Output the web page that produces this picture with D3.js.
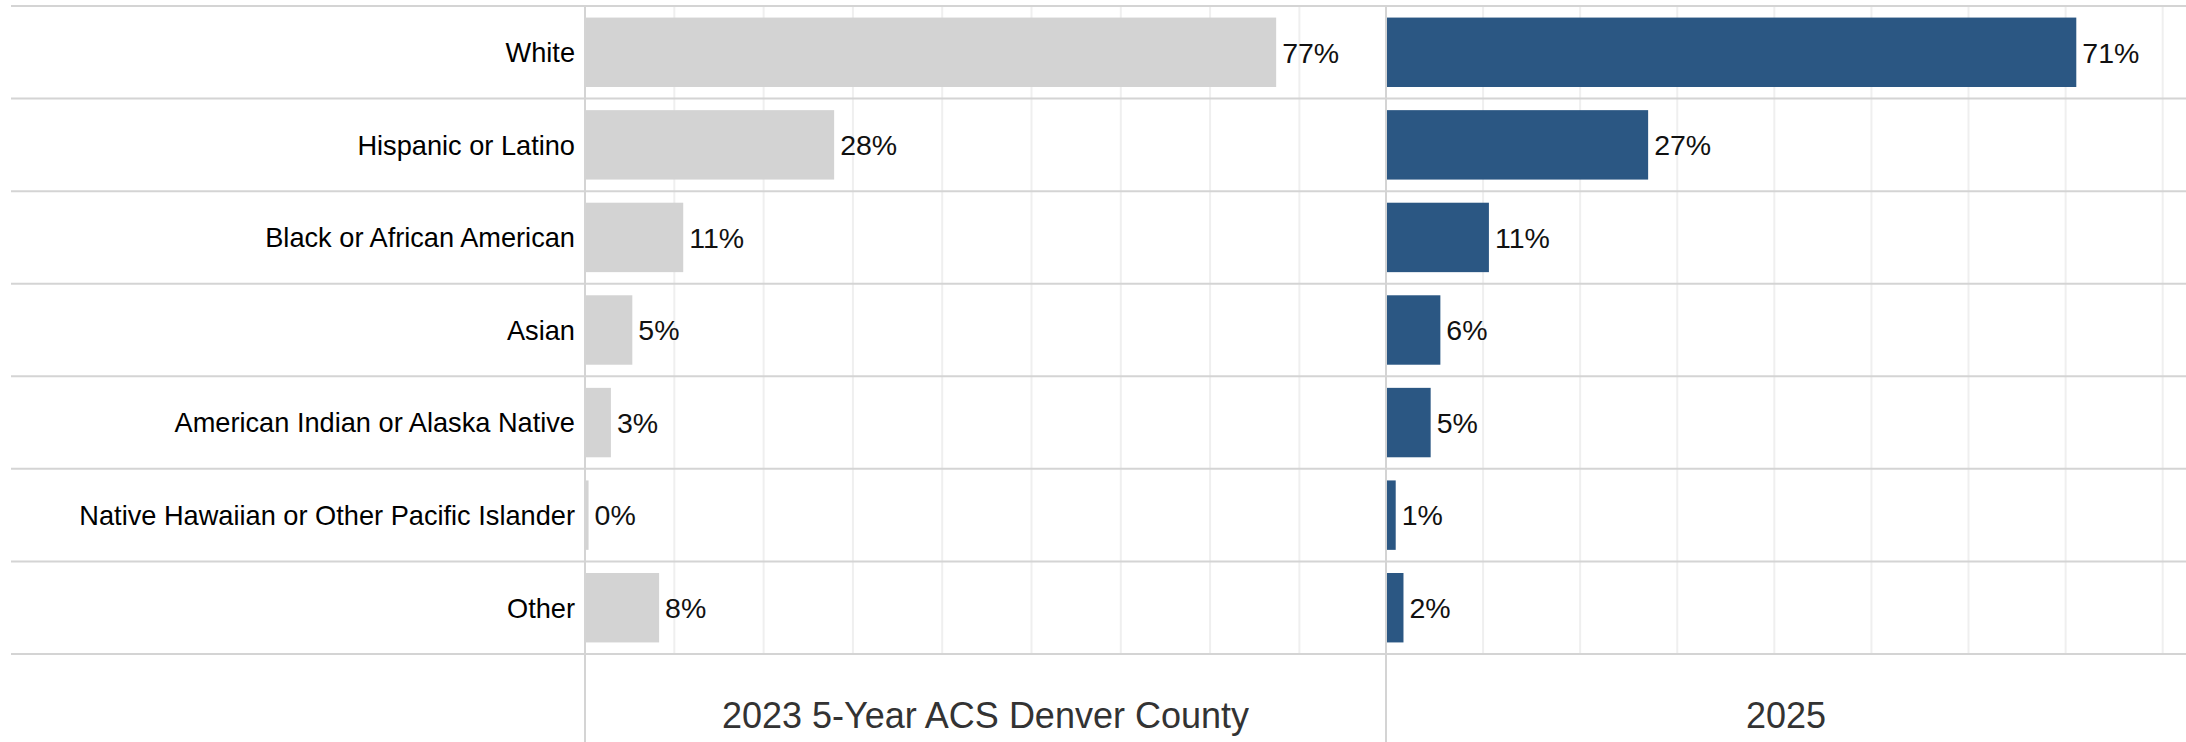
<!DOCTYPE html>
<html>
<head>
<meta charset="utf-8">
<script src="https://cdn.jsdelivr.net/npm/d3@7"></script>
<style>
  body { margin: 0; background: #fff; }
  text { font-family: Arial, "Liberation Sans", sans-serif; }
</style>
</head>
<body>
<script>
/* ---------------------------- */
/* DATA                         */
/* ---------------------------- */

const categories = [
    "White",
    "Hispanic or Latino",
    "Black or African American",
    "Asian",
    "American Indian or Alaska Native",
    "Native Hawaiian or Other Pacific Islander",
    "Other"
];
const panelTitles = ["2023 5-Year ACS Denver County", "2025"];
const acs2023 = [77.4, 27.9, 11.0, 5.3, 2.9, 0.4, 8.3];   // percent
const y2025   = [71.1, 27.0, 10.6, 5.6, 4.6, 1.0, 1.8];   // percent
const gridTicks = [10, 20, 30, 40, 50, 60, 70, 80];

/* ---------------------------- */
/* CANVAS                       */
/* ---------------------------- */

const w = 2186;
const h = 742;
const rowsTop = 6, rowsBottom = 654;
const labelRight = 585;          // left edge of the first panel
const panelSplit = 1386;          // left edge of the second panel

let svg = d3.select("body")
    .append("svg")
        .attr("width", w)
        .attr("height", h);

// Rows
let y = d3.scaleBand()
    .domain(categories)
    .range([rowsTop, rowsBottom])
    .paddingInner(0.25)
    .paddingOuter(0.125);

// One x scale per panel (independent ranges, like the original)
let panels = [
    {title: panelTitles[0], values: acs2023, color: "#d3d3d3",
     x: d3.scaleLinear().domain([0, 89.7]).range([labelRight, panelSplit])},
    {title: panelTitles[1], values: y2025, color: "#2b5783",
     x: d3.scaleLinear().domain([0, 82.4]).range([panelSplit, w])}
];

// Vertical gridlines
panels.forEach(p => {
    svg.append("g")
        .selectAll("line")
        .data(gridTicks)
        .enter()
        .append("line")
            .attr("x1", d => p.x(d))
            .attr("x2", d => p.x(d))
            .attr("y1", rowsTop)
            .attr("y2", rowsBottom)
            .attr("stroke", "#efefef")
            .attr("stroke-width", 2);
});

// Horizontal row separators
let step = y.step();
svg.append("g")
    .selectAll("line")
    .data(d3.range(categories.length + 1))
    .enter()
    .append("line")
        .attr("x1", 11)
        .attr("x2", w)
        .attr("y1", i => rowsTop + i * step)
        .attr("y2", i => rowsTop + i * step)
        .attr("stroke", "#d4d4d4")
        .attr("stroke-width", 2);

// Category labels
svg.append("g")
    .selectAll("text")
    .data(categories)
    .enter()
    .append("text")
        .attr("x", labelRight - 10)
        .attr("y", d => y(d) + y.bandwidth() / 2)
        .attr("dy", "0.36em")
        .attr("text-anchor", "end")
        .attr("font-size", "27.2px")
        .attr("fill", "#000")
        .text(d => d);

// Bars, value labels, panel titles
panels.forEach(p => {
    let g = svg.append("g");
    let rows = categories.map((c, i) => ({cat: c, v: p.values[i]}));

    g.selectAll("rect")
        .data(rows)
        .enter()
        .append("rect")
            .attr("x", p.x(0))
            .attr("y", d => y(d.cat))
            .attr("width", d => p.x(d.v) - p.x(0))
            .attr("height", y.bandwidth())
            .attr("fill", p.color);

    g.selectAll("text.val")
        .data(rows)
        .enter()
        .append("text")
            .attr("class", "val")
            .attr("x", d => p.x(d.v) + 6)
            .attr("y", d => y(d.cat) + y.bandwidth() / 2)
            .attr("dy", "0.36em")
            .attr("font-size", "28.5px")
            .attr("fill", "#111")
            .text(d => Math.round(d.v) + "%");

    // Axis line (runs down through the title area)
    g.append("line")
        .attr("x1", p.x(0))
        .attr("x2", p.x(0))
        .attr("y1", rowsTop)
        .attr("y2", h)
        .attr("stroke", "#d4d4d4")
        .attr("stroke-width", 2);

    // Panel title under the rows
    g.append("text")
        .attr("x", (p.x.range()[0] + p.x.range()[1]) / 2)
        .attr("y", 728)
        .attr("text-anchor", "middle")
        .attr("font-size", "36px")
        .attr("fill", "#333")
        .text(p.title);
});
</script>
</body>
</html>
